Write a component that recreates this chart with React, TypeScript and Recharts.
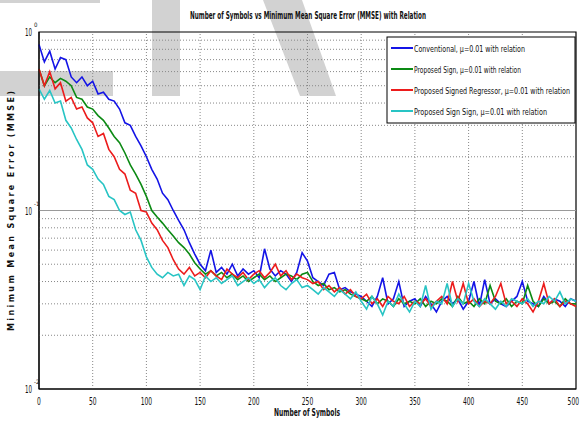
import { LineChart, Line, XAxis, YAxis, ReferenceLine, ReferenceArea } from "recharts"

// sampled every 5 symbols, 0..500
const symbols = Array.from({ length: 101 }, (_, i) => i * 5)

const conventional = [
  0.85, 0.68, 0.78, 0.62, 0.72, 0.70, 0.56, 0.52, 0.56, 0.50,
  0.53, 0.45, 0.46, 0.42, 0.41, 0.37, 0.31, 0.30, 0.26, 0.23,
  0.20, 0.17, 0.15, 0.125, 0.115, 0.10, 0.088, 0.078, 0.066, 0.057,
  0.050, 0.046, 0.060, 0.045, 0.048, 0.044, 0.050, 0.043, 0.047, 0.044,
  0.046, 0.042, 0.061, 0.047, 0.043, 0.046, 0.044, 0.040, 0.045, 0.058,
  0.052, 0.042, 0.040, 0.038, 0.044, 0.045, 0.036, 0.037, 0.035, 0.034,
  0.033, 0.031, 0.029, 0.033, 0.042, 0.030, 0.032, 0.040, 0.029, 0.031,
  0.032, 0.029, 0.033, 0.030, 0.027, 0.031, 0.033, 0.030, 0.032, 0.028,
  0.031, 0.040, 0.029, 0.041, 0.030, 0.032, 0.030, 0.029, 0.031, 0.033,
  0.040, 0.031, 0.030, 0.029, 0.033, 0.030, 0.032, 0.031, 0.029, 0.032,
  0.031,
]

const proposedSign = [
  0.62, 0.50, 0.56, 0.52, 0.55, 0.53, 0.50, 0.43, 0.42, 0.38,
  0.37, 0.34, 0.32, 0.29, 0.26, 0.24, 0.21, 0.18, 0.16, 0.14,
  0.12, 0.10, 0.092, 0.085, 0.078, 0.072, 0.066, 0.062, 0.057, 0.051,
  0.047, 0.044, 0.046, 0.043, 0.045, 0.042, 0.044, 0.041, 0.043, 0.040,
  0.042, 0.044, 0.041, 0.043, 0.040, 0.042, 0.044, 0.043, 0.041, 0.044,
  0.045, 0.040, 0.038, 0.039, 0.036, 0.037, 0.035, 0.036, 0.034, 0.033,
  0.032, 0.031, 0.033, 0.030, 0.032, 0.031, 0.029, 0.032, 0.030, 0.031,
  0.030, 0.032, 0.029, 0.031, 0.030, 0.032, 0.031, 0.029, 0.033, 0.030,
  0.031, 0.029, 0.032, 0.030, 0.038, 0.031, 0.030, 0.032, 0.029, 0.031,
  0.030, 0.038, 0.031, 0.029, 0.032, 0.030, 0.031, 0.029, 0.032, 0.030,
  0.030,
]

const signedRegressor = [
  0.62, 0.50, 0.60, 0.48, 0.52, 0.41, 0.43, 0.37, 0.38, 0.33,
  0.31, 0.26, 0.27, 0.22, 0.20, 0.17, 0.16, 0.13, 0.125, 0.10,
  0.098, 0.085, 0.078, 0.068, 0.062, 0.053, 0.047, 0.044, 0.048, 0.043,
  0.045, 0.042, 0.046, 0.043, 0.041, 0.047, 0.044, 0.042, 0.045, 0.041,
  0.044, 0.046, 0.042, 0.045, 0.050, 0.043, 0.046, 0.041, 0.044, 0.042,
  0.041, 0.039, 0.040, 0.036, 0.038, 0.035, 0.037, 0.034, 0.036, 0.033,
  0.032, 0.034, 0.030, 0.032, 0.029, 0.033, 0.031, 0.030, 0.033, 0.029,
  0.031, 0.030, 0.032, 0.029, 0.031, 0.033, 0.030, 0.040, 0.031, 0.039,
  0.030, 0.032, 0.029, 0.031, 0.030, 0.033, 0.039, 0.030, 0.031, 0.029,
  0.032, 0.030, 0.027, 0.031, 0.039, 0.030, 0.032, 0.029, 0.031, 0.030,
  0.029,
]

const signSign = [
  0.48, 0.42, 0.47, 0.40, 0.41, 0.32, 0.29, 0.25, 0.22, 0.18,
  0.17, 0.15, 0.14, 0.12, 0.115, 0.10, 0.095, 0.098, 0.078, 0.068,
  0.055, 0.048, 0.044, 0.042, 0.045, 0.043, 0.044, 0.038, 0.043, 0.041,
  0.036, 0.043, 0.040, 0.042, 0.039, 0.041, 0.043, 0.038, 0.040, 0.042,
  0.039, 0.041, 0.037, 0.040, 0.042, 0.038, 0.036, 0.039, 0.041, 0.037,
  0.038, 0.036, 0.034, 0.037, 0.035, 0.033, 0.036, 0.034, 0.032, 0.035,
  0.031, 0.028, 0.033, 0.030, 0.026, 0.031, 0.029, 0.034, 0.030, 0.027,
  0.031, 0.029, 0.038, 0.028, 0.031, 0.030, 0.039, 0.029, 0.032, 0.030,
  0.039, 0.031, 0.029, 0.032, 0.030, 0.028, 0.031, 0.029, 0.032, 0.031,
  0.030, 0.032, 0.029, 0.031, 0.030, 0.033, 0.031, 0.035, 0.030, 0.032,
  0.031,
]

const xTicks = [0, 50, 100, 150, 200, 250, 300, 350, 400, 450, 500]
const yTicks = [0.01, 0.1, 1]
const yMinor = [0.02, 0.03, 0.04, 0.05, 0.06, 0.07, 0.08, 0.09, 0.2, 0.3, 0.4, 0.5, 0.6, 0.7, 0.8, 0.9]
const yExp: Record<string, string> = { "0.01": "-2", "0.1": "-1", "1": "0" }

const series = [
  { key: "conv", name: "Conventional, \u03bc=0.01 with relation", color: "#1414e6", len: 111 },
  { key: "sign", name: "Proposed Sign, \u03bc=0.01 with relation", color: "#0c8a14", len: 107 },
  { key: "reg", name: "Proposed Signed Regressor, \u03bc=0.01 with relation", color: "#ec1c1c", len: 156 },
  { key: "ss", name: "Proposed Sign Sign, \u03bc=0.01 with relation", color: "#28c4c4", len: 133 },
]

const data = symbols.map((s, i) => ({
  s,
  conv: conventional[i],
  sign: proposedSign[i],
  reg: signedRegressor[i],
  ss: signSign[i],
}))

const NARROW = "'Liberation Sans Narrow', 'DejaVu Sans Condensed', Arial, sans-serif"

function XTick(props: any) {
  const { x, y, payload } = props
  const label = String(payload.value)
  const last = payload.value === 500
  return (
    <text
      x={last ? x + 3 : x}
      y={y + 8}
      textAnchor={last ? "end" : "middle"}
      fontFamily={NARROW}
      fontSize={10}
      fill="#111"
      textLength={label.length * 3.8}
      lengthAdjust="spacingAndGlyphs"
    >
      {label}
    </text>
  )
}

function YTick(props: any) {
  const { y, payload } = props
  return (
    <g>
      <text x={32} y={y + 4} textAnchor="end" fontFamily={NARROW} fontSize={10} fill="#111" textLength={7} lengthAdjust="spacingAndGlyphs">10</text>
      <text x={34} y={y - 5} fontFamily={NARROW} fontSize={6} fill="#111">{yExp[String(payload.value)]}</text>
    </g>
  )
}

const gray = "#d2d2d2"

export default function App() {
  return (
    <div style={{ position: "absolute", left: 0, top: 0, width: 582, height: 425, background: "#fff" }}>
      {/* watermark behind the plot */}
      <svg width={582} height={425} style={{ position: "absolute", left: 0, top: 0 }}>
        <rect x={0} y={0} width={100} height={3} fill={gray} />
        <rect x={0} y={71} width={113} height={25} fill={gray} />
        <rect x={152} y={0} width={28} height={96} fill={gray} />
        <polygon points="263,0 302,0 336,96 300,96" fill={gray} />
      </svg>
      <div style={{ position: "absolute", left: 0, top: 0 }}>
        <LineChart width={582} height={425} data={data} margin={{ top: 32, right: 6, left: 0, bottom: 0 }}>
          <XAxis
            dataKey="s"
            type="number"
            domain={[0, 500]}
            ticks={xTicks}
            interval={0}
            height={36}
            tickLine={false}
            axisLine={{ stroke: "#000" }}
            tick={(p: any) => <XTick {...p} />}
          />
          <YAxis
            type="number"
            scale="log"
            domain={[0.01, 1]}
            allowDataOverflow
            ticks={yTicks}
            interval={0}
            width={39}
            tickLine={false}
            axisLine={{ stroke: "#000" }}
            tick={(p: any) => <YTick {...p} />}
          />
          {xTicks.slice(1, -1).map((v) => (
            <ReferenceLine key={"x" + v} x={v} stroke="#888" strokeDasharray="1 2" />
          ))}
          {yMinor.map((v) => (
            <ReferenceLine key={"y" + v} y={v} stroke="#888" strokeDasharray="1 2" />
          ))}
          <ReferenceLine y={0.1} stroke="#9a9a9a" strokeWidth={1.2} />
          <ReferenceArea x1={0} x2={500} y1={0.01} y2={1} fill="none" stroke="#000" strokeWidth={1.2} ifOverflow="visible" />
          {series.map((s) => (
            <Line
              key={s.key}
              dataKey={s.key}
              type="linear"
              stroke={s.color}
              strokeWidth={1.6}
              dot={false}
              isAnimationActive={false}
            />
          ))}
        </LineChart>
      </div>
      {/* title, axis labels, legend */}
      <svg width={582} height={425} style={{ position: "absolute", left: 0, top: 0 }}>
        <text x={308} y={19} textAnchor="middle" fontFamily={NARROW} fontSize={10} fontWeight="bold" fill="#111" textLength={236} lengthAdjust="spacingAndGlyphs">
          Number of Symbols vs Minimum Mean Square Error (MMSE) with Relation
        </text>
        <text x={307} y={416} textAnchor="middle" fontFamily={NARROW} fontSize={10} fontWeight="bold" fill="#111" textLength={66} lengthAdjust="spacingAndGlyphs">
          Number of Symbols
        </text>
        <text transform="translate(14,211) rotate(-90)" textAnchor="middle" fontFamily="'DejaVu Sans', sans-serif" fontSize={8} fontWeight="bold" fill="#111" textLength={240} lengthAdjust="spacing">
          Minimum Mean Square Error (MMSE)
        </text>
        <rect x={387} y={37} width={188} height={86} fill="#fff" stroke="#000" strokeWidth={1} />
        {series.map((s, i) => (
          <g key={s.key}>
            <line x1={391} x2={413} y1={48 + i * 21} y2={48 + i * 21} stroke={s.color} strokeWidth={2} />
            <text x={414} y={51.5 + i * 21} fontFamily={NARROW} fontSize={9.5} fill="#111" textLength={s.len} lengthAdjust="spacingAndGlyphs">{s.name}</text>
          </g>
        ))}
      </svg>
    </div>
  )
}
